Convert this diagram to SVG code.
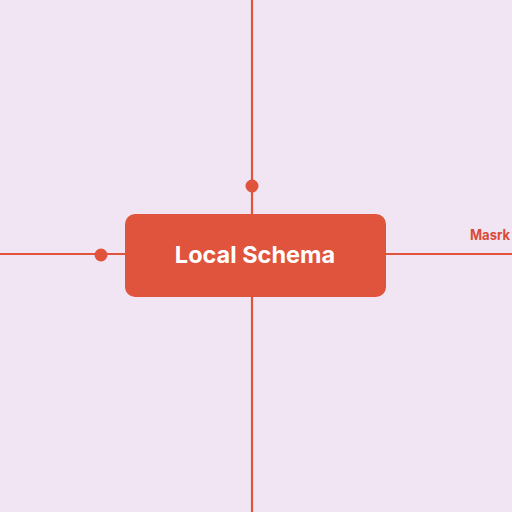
<svg xmlns="http://www.w3.org/2000/svg" width="512" height="512" viewBox="0 0 512 512">
<style>
.ln{stroke:#E0533C;stroke-width:2.2;fill:none}
.dot{fill:#E0533C}
</style>
<rect width="512" height="512" fill="#F1E5F3"/>
<g id="connectors">
<line class="ln" x1="252" y1="0" x2="252" y2="214"/>
<line class="ln" x1="252" y1="297" x2="252" y2="512"/>
<line class="ln" x1="0" y1="254" x2="125" y2="254"/>
<line class="ln" x1="386" y1="254" x2="512" y2="254"/>
<circle class="dot" cx="252" cy="186" r="6.5"/>
<circle class="dot" cx="101" cy="255" r="6.5"/>
</g>
<g id="local-schema">
<rect x="125" y="214" width="261" height="83" rx="10" fill="#E0533C"/>
<text x="255" y="263" text-anchor="middle" font-family="Inter, 'Liberation Sans', sans-serif" font-weight="700" font-size="23.5" fill="#FFFFFF">Local Schema</text>
</g>
<g id="mask">
<text x="470" y="240" font-family="Inter, 'Liberation Sans', sans-serif" font-weight="700" font-size="14" textLength="40" lengthAdjust="spacingAndGlyphs" fill="#D94A38">Masrk</text>
</g>
</svg>
